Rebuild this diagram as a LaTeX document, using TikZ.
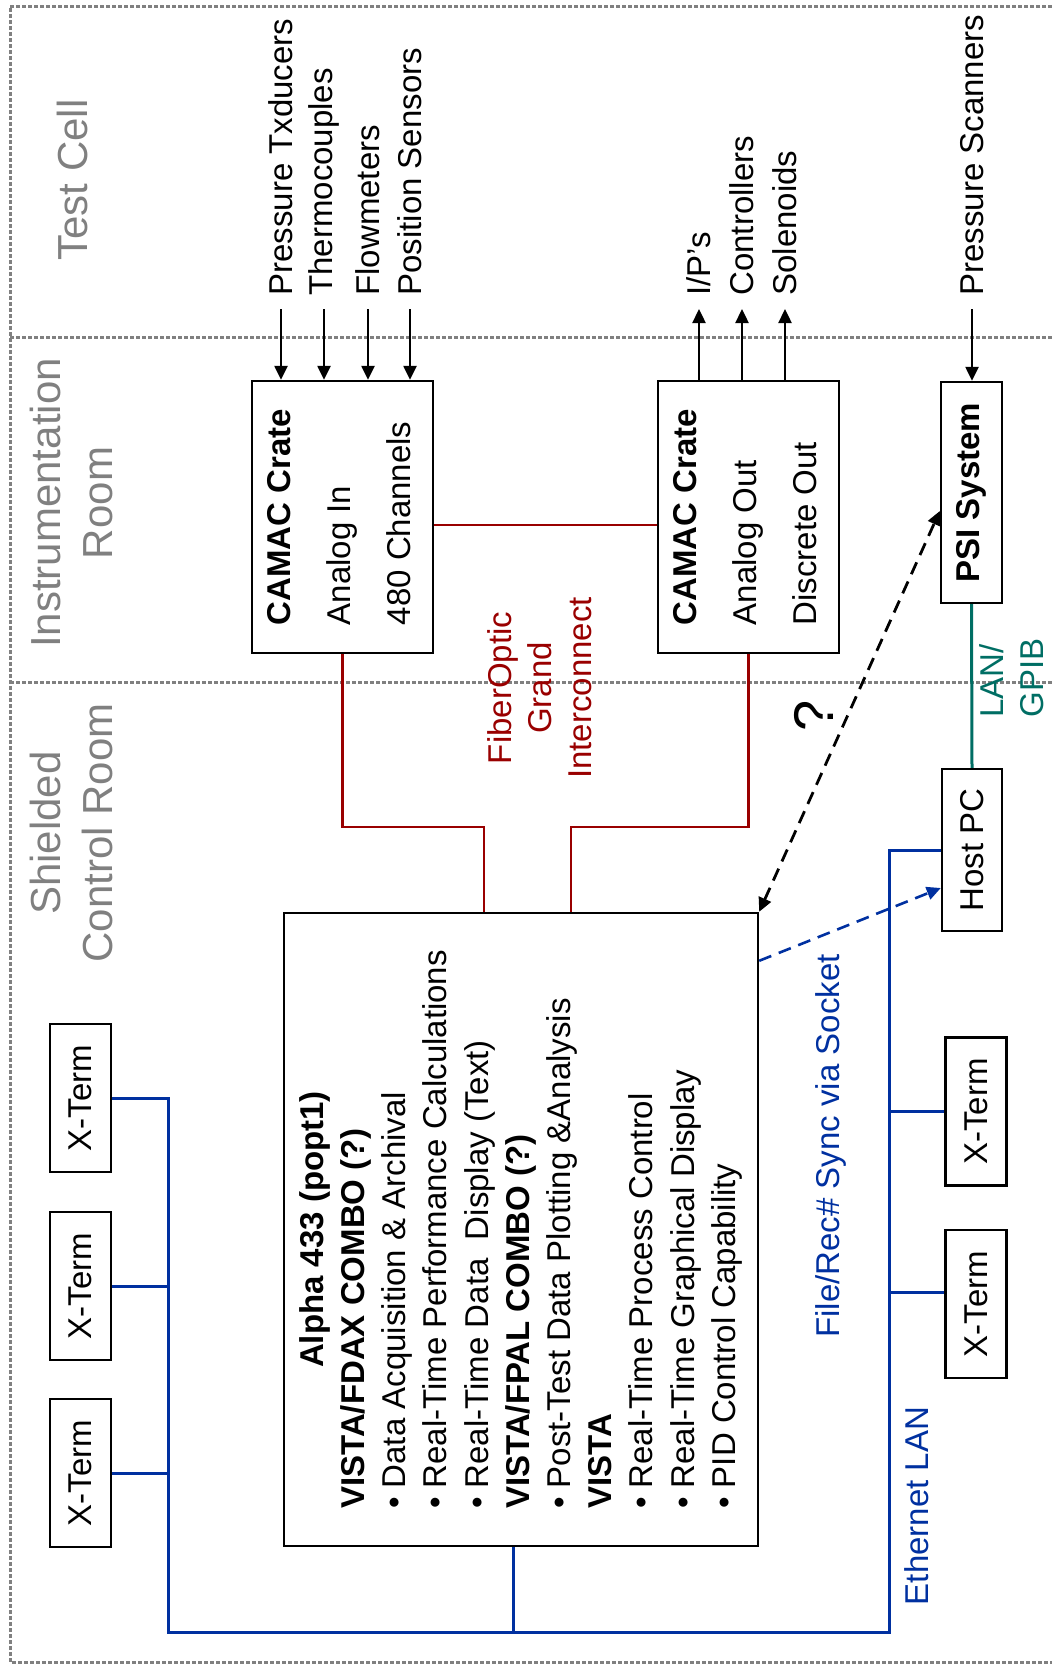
\documentclass[tikz,border=0pt]{standalone}
\usepackage{fontspec}
\setmainfont{Liberation Sans}
\usepackage{graphicx}
\usetikzlibrary{arrows.meta}
\definecolor{fiberred}{RGB}{153,0,0}
\definecolor{lanblue}{RGB}{0,48,160}
\definecolor{gpibteal}{RGB}{0,110,100}
\definecolor{roomgray}{RGB}{128,128,128}
\begin{document}
    \begin{tikzpicture}[
        x=0.5pt, y=-0.5pt,
        >={Triangle[length=7pt,width=6.5pt]},
        every node/.style={font=\fontsize{16.5}{20.6}\selectfont, inner sep=0pt},
        box/.style={draw, line width=1.2pt},
        xterm/.style={box, minimum width=30.5pt, minimum height=74pt},
        sig/.style={rotate=90, anchor=west},
        room/.style={rotate=90, align=center, text=roomgray, font=\fontsize{21}{26}\selectfont},
        divider/.style={draw=roomgray, line width=1.5pt, dash pattern=on 2pt off 1pt},
        wire/.style={line width=1.2pt},
        fiber/.style={draw=fiberred, line width=1.35pt},
        lan/.style={draw=lanblue, line width=1.5pt}
    ]
        \useasboundingbox (0,0) rectangle (1052,1665);

        % Các vùng
        \draw[divider] (1052,6) -- (10,6) -- (10,1662) -- (1052,1662);
        \draw[divider] (10,337) -- (1052,337);
        \draw[divider] (10,682) -- (1052,682);
        \node[room] (testcell) at (72,180) {Test Cell};
        \node[room] (instroom) at (71,503) {Instrumentation\\Room};
        \node[room] (ctrlroom) at (71,833) {Shielded\\Control Room};

        % Khối chính
        \node[box, minimum width=90.5pt, minimum height=136pt] (camacin) at (342.5,517)
            {\rotatebox{90}{\begin{tabular}{@{}l@{}}\textbf{CAMAC Crate}\\[9.4pt]Analog In\\[9.4pt]480 Channels\end{tabular}}};
        \node[box, minimum width=90.5pt, minimum height=136pt] (camacout) at (748.5,517)
            {\rotatebox{90}{\begin{tabular}{@{}l@{}}\textbf{CAMAC Crate}\\[9.4pt]Analog Out\\[9.4pt]Discrete Out\end{tabular}}};
        \node[box, minimum width=30.5pt, minimum height=110.5pt] (psi) at (971.5,492.5)
            {\rotatebox{90}{\textbf{PSI System}}};
        \node[box, minimum width=30pt, minimum height=81pt] (hostpc) at (972,850)
            {\rotatebox{90}{Host PC}};
        \node[box, minimum width=237pt, minimum height=316.5pt] (alpha) at (521,1229.5)
            {\rotatebox{90}{\begin{tabular}{@{}l@{}}
                \multicolumn{1}{@{}c@{}}{\textbf{Alpha 433 (popt1)}}\\
                \textbf{VISTA/FDAX COMBO (?)}\\
                \textbullet\ Data Acquisition \& Archival\\
                \textbullet\ Real-Time Performance Calculations\\
                \textbullet\ Real-Time Data\ \ Display (Text)\\
                \textbf{VISTA/FPAL COMBO (?)}\\
                \textbullet\ Post-Test Data Plotting \&Analysis\\
                \textbf{VISTA}\\
                \textbullet\ Real-Time Process Control\\
                \textbullet\ Real-Time Graphical Display\\
                \textbullet\ PID Control Capability
            \end{tabular}}};
        \node[xterm] (xl1) at (80.5,1098) {\rotatebox{90}{X-Term}};
        \node[xterm] (xl2) at (80.5,1286) {\rotatebox{90}{X-Term}};
        \node[xterm] (xl3) at (80.5,1473) {\rotatebox{90}{X-Term}};
        \node[xterm] (xr1) at (976,1111.5) {\rotatebox{90}{X-Term}};
        \node[xterm] (xr2) at (976,1304) {\rotatebox{90}{X-Term}};

        % Tín hiệu từ buồng thử
        \node[sig] (sens1) at (281,296) {Pressure Txducers};
        \node[sig] (sens2) at (324,296) {Thermocouples};
        \node[sig] (sens3) at (368,296) {Flowmeters};
        \node[sig] (sens4) at (410,296) {Position Sensors};
        \node[sig] (act1) at (699,296) {I/P’s};
        \node[sig] (act2) at (742,296) {Controllers};
        \node[sig] (act3) at (785,296) {Solenoids};
        \node[sig] (scan) at (972,296) {Pressure Scanners};
        \draw[wire, ->] (sens1.west) ++(0,13) -- (sens1.west |- camacin.north);
        \draw[wire, ->] (sens2.west) ++(0,13) -- (sens2.west |- camacin.north);
        \draw[wire, ->] (sens3.west) ++(0,13) -- (sens3.west |- camacin.north);
        \draw[wire, ->] (sens4.west) ++(0,13) -- (sens4.west |- camacin.north);
        \draw[wire, <-] (act1.west) ++(0,13) -- (act1.west |- camacout.north);
        \draw[wire, <-] (act2.west) ++(0,13) -- (act2.west |- camacout.north);
        \draw[wire, <-] (act3.west) ++(0,13) -- (act3.west |- camacout.north);
        \draw[wire, ->] (scan.west) ++(0,13) -- (scan.west |- psi.north);

        % Cáp quang
        \coordinate (foL) at (484,827);
        \coordinate (foR) at (571,827);
        \draw[fiber] ([yshift=-4pt]camacin.east) -- ([yshift=-4pt]camacout.west);
        \draw[fiber] (camacin.south) |- (foL) -- (foL |- alpha.north);
        \draw[fiber] (camacout.south) |- (foR) -- (foR |- alpha.north);
        \node[rotate=90, align=center, text=fiberred, font=\fontsize{16.5}{20}\selectfont] (fiberlbl) at (540,688)
            {FiberOptic\\Grand\\Interconnect};

        % PSI và Host PC
        \draw[draw=gpibteal, line width=1.5pt] (psi.south) -- (hostpc.north);
        \node[rotate=90, align=left, text=gpibteal, font=\fontsize{16.5}{20}\selectfont] (gpiblbl) at (1012,678) {LAN/\\GPIB};
        \draw[wire, line width=1.4pt, dash pattern=on 6.5pt off 4pt, <->] (alpha.north east) -- ([yshift=-9.25pt]psi.west);
        \node[rotate=90, font=\fontsize{28}{30}\selectfont] (query) at (814,716) {?};
        \draw[lan, line width=1.3pt, dash pattern=on 6.5pt off 4pt, ->] ([yshift=-24.5pt]alpha.north east) -- ([yshift=-19pt]hostpc.west);
        \node[rotate=90, text=lanblue] (synclbl) at (831,1146) {File/Rec\# Sync via Socket};

        % Mạng Ethernet
        \coordinate (busL) at (168,1632);
        \coordinate (busR) at (889,1632);
        \draw[lan] (xl1.east) -| (busL) -- (busR) |- (hostpc.west);
        \draw[lan] (xl2.east) -- (xl2.east -| busL);
        \draw[lan] (xl3.east) -- (xl3.east -| busL);
        \draw[lan] (xr1.west) -- (xr1.west -| busR);
        \draw[lan] ([yshift=6pt]xr2.west) -- ([yshift=6pt]xr2.west -| busR);
        \draw[lan] ([xshift=-4pt]alpha.south) -- ([xshift=-4pt]alpha.south |- busL);
        \node[rotate=90, text=lanblue] (ethlbl) at (917,1506) {Ethernet LAN};
    \end{tikzpicture}
\end{document}
